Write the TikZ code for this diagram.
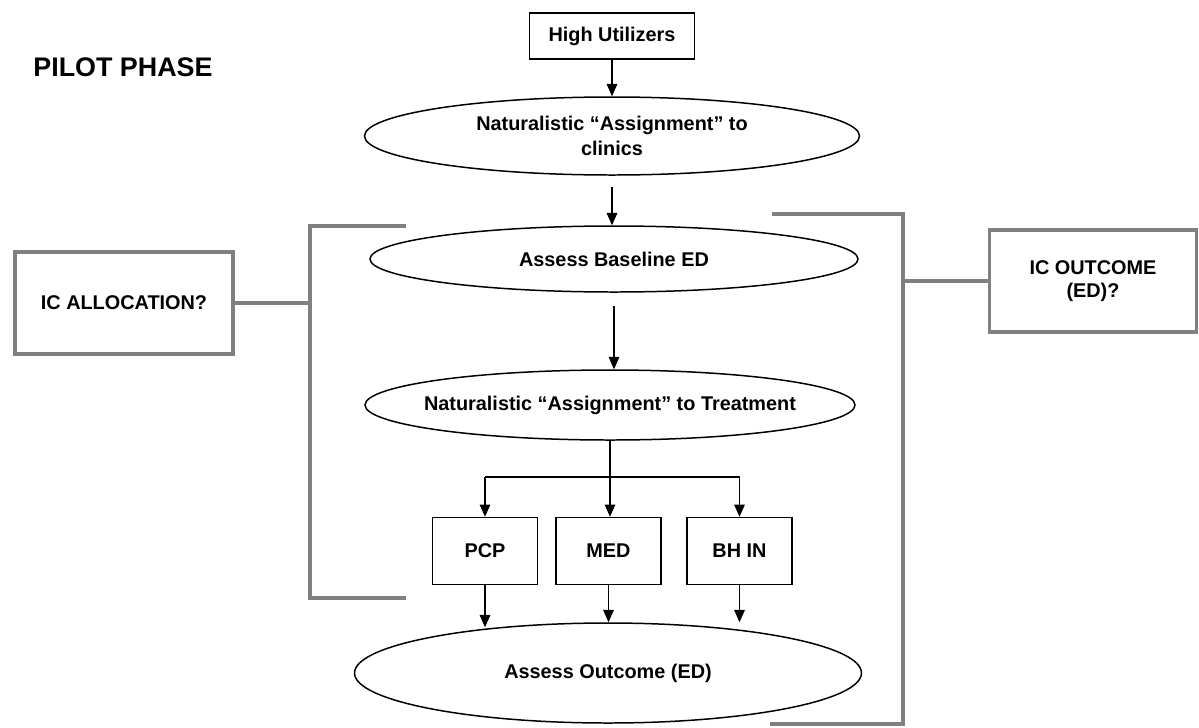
\documentclass[tikz,border=0pt]{standalone}
\usepackage{fontspec}
\setmainfont{Liberation Sans}
\usetikzlibrary{shapes}
\usetikzlibrary{arrows.meta}
\tikzset{
    stepbox/.style = {rectangle, draw=black, line width=0.8pt, align=center, inner sep=0pt, font=\bfseries\fontsize{11.3}{13}\selectfont},
    oval/.style = {ellipse, draw=black, line width=0.85pt, align=center, inner sep=0pt, font=\bfseries\fontsize{11.3}{14}\selectfont},
    icbox/.style = {rectangle, draw=gray, line width=2pt, align=center, inner sep=0pt, font=\bfseries\fontsize{11.3}{13.5}\selectfont},
    edgen/.style = {-{Triangle[width=6pt,length=7pt]}, line width=0.8pt},
    brack/.style = {draw=gray, line width=2pt}
}
\begin{document}
\begin{tikzpicture}
\path[use as bounding box] (0,0) rectangle (23.98,-14.54);
%
\node[anchor=west,inner sep=0pt,font=\bfseries\fontsize{15.3}{18}\selectfont] at (0.66,-1.34) (title) {PILOT PHASE};
\node[stepbox,minimum width=3.3cm,minimum height=0.92cm] at (12.24,-0.72) (hu) {High Utilizers};
\node[oval,minimum width=9.9cm,minimum height=1.56cm] at (12.24,-2.72) (e1) {Naturalistic “Assignment” to\\clinics};
\node[oval,minimum width=9.76cm,minimum height=1.32cm] at (12.28,-5.18) (e2) {Assess Baseline ED};
\node[oval,inner xsep=-1.5cm,minimum width=9.8cm,minimum height=1.4cm] at (12.2,-8.1) (e3) {Naturalistic “Assignment” to Treatment};
\node[stepbox,minimum width=2.1cm,minimum height=1.34cm] at (9.7,-11.02) (pcp) {PCP};
\node[stepbox,minimum width=2.1cm,minimum height=1.34cm] at (12.17,-11.02) (med) {MED};
\node[stepbox,minimum width=2.1cm,minimum height=1.34cm] at (14.79,-11.02) (bhin) {BH IN};
\node[oval,minimum width=10.14cm,minimum height=2.0cm] at (12.16,-13.46) (e4) {Assess Outcome (ED)};
\node[icbox,minimum width=4.36cm,minimum height=2.04cm] at (2.48,-6.06) (ica) {IC ALLOCATION?};
\node[icbox,minimum width=4.14cm,minimum height=2.04cm] at (21.86,-5.62) (ico) {IC OUTCOME\\(ED)?};
%
\coordinate (brnch) at (12.2,-9.54);
\coordinate (lbrk) at (6.2,-4.52);
\coordinate (rbrk) at (18.06,-4.28);
%
\draw[edgen] (hu.south) -- (e1.north);
\draw[edgen,shorten <=0.22cm] (e1.south) -- (e1.south |- e2.north);
\draw[edgen,shorten <=0.26cm] (e2.south) -- (e2.south |- e3.north);
\draw[edgen] (e3.south) -- (e3.south |- med.north);
\draw[line width=0.8pt] (brnch -| pcp.north) -- (brnch -| bhin.north);
\draw[edgen] (brnch -| pcp.north) -- (pcp.north);
\draw[edgen] (brnch -| bhin.north) -- (bhin.north);
\draw[edgen,shorten >=-0.1cm] (pcp.south) -- (pcp.south |- e4.north);
\draw[edgen] (med.south) -- (med.south |- e4.north);
\draw[edgen] (bhin.south) -- (bhin.south |- e4.north);
%
\draw[brack] (8.12,-4.52) -- (lbrk) -- (6.2,-11.96) -- (8.12,-11.96);
\draw[brack] (15.44,-4.28) -- (rbrk) -- (18.06,-14.48) -- (15.4,-14.48);
\draw[brack] (ica.east) -- (ica.east -| lbrk);
\draw[brack] (ico.west) -- (ico.west -| rbrk);

\end{tikzpicture}
\end{document}
